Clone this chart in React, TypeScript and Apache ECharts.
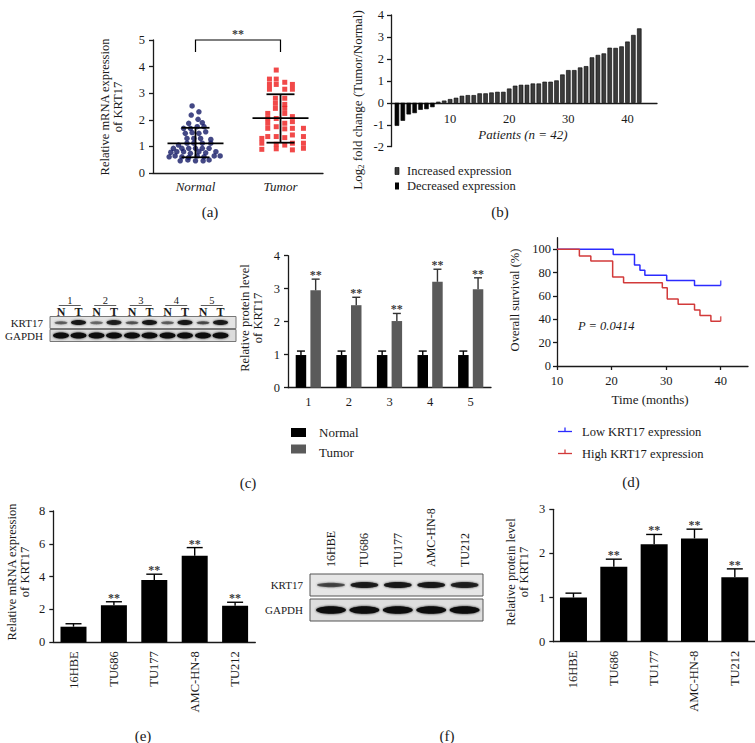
import React, { useEffect, useRef } from "react";
import * as echarts from "echarts";

const FONT = "'Liberation Serif', 'DejaVu Serif', serif";
const INK = "#1a1a1a";

// ---------- (a) scatter: [jittered position, relative mRNA expression]
const groupsA = ["Normal", "Tumor"];
const normalPoints: [number, number][] = [
  [0.46, 2.52], [0.54, 2.3], [0.45, 2.18], [0.53, 2.02], [0.42, 1.87], [0.58, 1.89],
  [0.36, 1.68], [0.44, 1.68], [0.52, 1.74], [0.6, 1.74],
  [0.38, 1.49], [0.46, 1.52], [0.54, 1.49], [0.62, 1.55],
  [0.4, 1.3], [0.48, 1.3], [0.56, 1.3], [0.68, 1.26],
  [0.3, 1.05], [0.4, 1.12], [0.48, 1.12], [0.58, 1.12], [0.68, 1.12],
  [0.24, 0.93], [0.34, 0.93], [0.42, 0.93], [0.5, 0.93], [0.58, 0.93], [0.66, 0.93],
  [0.21, 0.78], [0.28, 0.8], [0.36, 0.8], [0.44, 0.74], [0.54, 0.8], [0.62, 0.76], [0.74, 0.8],
  [0.19, 0.61], [0.26, 0.64], [0.34, 0.61], [0.42, 0.59], [0.52, 0.64], [0.6, 0.61], [0.72, 0.64], [0.79, 0.64],
  [0.32, 0.46], [0.41, 0.49], [0.5, 0.46], [0.59, 0.46], [0.66, 0.49],
];
const tumorPoints: [number, number][] = [
  [1.45, 3.87],
  [1.37, 3.53], [1.45, 3.53],
  [1.37, 3.33], [1.45, 3.33], [1.55, 3.41], [1.64, 3.33],
  [1.37, 3.15], [1.55, 3.15], [1.64, 3.15],
  [1.44, 2.81], [1.55, 2.81],
  [1.44, 2.62], [1.55, 2.58],
  [1.44, 2.43], [1.55, 2.43],
  [1.35, 2.24], [1.55, 2.24],
  [1.35, 2.05], [1.45, 2.05], [1.64, 2.12],
  [1.35, 1.87], [1.55, 1.87], [1.64, 1.93],
  [1.35, 1.68], [1.45, 1.74], [1.55, 1.66], [1.64, 1.68], [1.77, 1.68],
  [1.28, 1.3], [1.35, 1.37], [1.45, 1.37], [1.55, 1.33], [1.64, 1.43], [1.77, 1.37],
  [1.28, 1.12], [1.45, 1.08], [1.55, 1.05], [1.64, 1.12], [1.77, 1.12],
  [1.28, 0.89], [1.45, 0.91], [1.64, 0.87], [1.77, 0.93],
];
// [group position, mean, lower SD, upper SD]
const summaryA: number[][] = [
  [0.5, 1.11, 0.59, 1.7],
  [1.5, 2.06, 1.14, 2.96],
];
// [from, to, top, foot]
const bracketA: number[][] = [[0.5, 1.5, 5.0, 4.55]];

// ---------- (b) log2 fold change per patient
const foldChange = [
  -1.05, -0.82, -0.53, -0.47, -0.32, -0.29, -0.2, 0.05, 0.1, 0.17,
  0.23, 0.32, 0.35, 0.35, 0.43, 0.43, 0.47, 0.5, 0.5, 0.65,
  0.78, 0.82, 0.82, 0.88, 0.88, 0.96, 0.96, 1.02, 1.29, 1.49,
  1.49, 1.61, 1.67, 2.07, 2.18, 2.25, 2.51, 2.5, 2.57, 2.79,
  3.09, 3.39,
];
const patientTicks = [10, 20, 30, 40];

// ---------- (c) protein level in 5 tissue pairs
const pairLabels = ["1", "2", "3", "4", "5"];
const normalProtein = [0.99, 0.99, 0.99, 0.99, 0.99];
const normalProteinErr = [0.12, 0.12, 0.12, 0.12, 0.12];
const tumorProtein = [2.95, 2.5, 2.02, 3.21, 2.98];
const tumorProteinErr = [0.34, 0.24, 0.23, 0.38, 0.35];
const blotKrt17N = [0.5, 0.45, 0.55, 0.5, 0.6];
const blotKrt17T = [0.95, 0.85, 0.95, 0.95, 0.9];

// ---------- (d) Kaplan-Meier
const lowKM: [number, number][] = [
  [10, 100], [20.3, 95.7], [24.2, 86.5], [25.2, 82], [26.1, 77.7], [30.1, 73.3], [35.2, 69], [40, 69],
];
const highKM: [number, number][] = [
  [10, 100], [14.1, 94.3], [16.2, 90], [20.2, 76.2], [22.2, 71.3], [29.3, 67], [30.2, 57.5],
  [32.2, 53], [35.2, 48], [36.2, 43.2], [38.2, 38.3], [40, 38.3],
];
const monthTicks = [10, 20, 30, 40];
const survivalTicks = [0, 20, 40, 60, 80, 100];

// ---------- (e)/(f) cell lines
const cellLines = ["16HBE", "TU686", "TU177", "AMC-HN-8", "TU212"];
const mrnaLevels = [0.95, 2.25, 3.8, 5.27, 2.22];
const mrnaErr = [0.18, 0.22, 0.35, 0.5, 0.22];
const proteinLevels = [1.0, 1.7, 2.21, 2.34, 1.46];
const proteinErr = [0.1, 0.17, 0.22, 0.21, 0.19];
const blotCellKrt17 = [0.6, 0.9, 0.95, 0.95, 0.85];
const mrnaSig = [false, true, true, true, true];
const proteinSig = [false, true, true, true, true];

// ---------- helpers
const axisLineS = { lineStyle: { color: INK, width: 1.3 } };
const axisTickS = { length: 4, lineStyle: { color: INK, width: 1.3 } };
const axisLabelS = { color: INK, fontFamily: FONT, fontSize: 12, margin: 6 };

const txt = (
  text: string,
  x: number,
  y: number,
  o: { size?: number; italic?: boolean; align?: string; rot?: number; lh?: number; bold?: boolean } = {}
) => ({
  type: "text",
  x,
  y,
  rotation: o.rot || 0,
  silent: true,
  style: {
    text,
    x: 0,
    y: 0,
    fill: INK,
    fontFamily: FONT,
    fontSize: o.size || 12,
    fontStyle: o.italic ? "italic" : "normal",
    fontWeight: o.bold ? "bold" : "normal",
    lineHeight: o.lh || (o.size || 12) + 2,
    textAlign: o.align || "center",
    textVerticalAlign: "middle",
    align: o.align || "center",
    verticalAlign: "middle",
  },
});

// invisible anchor points that carry the "**" significance labels
const starSeries = (xAxisIndex: number, yAxisIndex: number, data: any[], dx: number, dy: number) => ({
  type: "scatter",
  xAxisIndex,
  yAxisIndex,
  data,
  symbol: "circle",
  symbolSize: 1,
  itemStyle: { color: "rgba(0,0,0,0)" },
  silent: true,
  z: 6,
  label: {
    show: true,
    formatter: "**",
    position: "inside",
    offset: [dx, dy],
    color: "#000",
    textBorderWidth: 0,
    fontFamily: FONT,
    fontSize: 12,
    fontWeight: "bold",
  },
});

const makeErr = (offset: number, capHalf: number, color: string) => (params: any, api: any) => {
  const i = api.value(0);
  const v = api.value(1);
  const e = api.value(2);
  const p0 = api.coord([i, v]);
  const p1 = api.coord([i, v + e]);
  const x = p0[0] + offset;
  const st = { stroke: color, lineWidth: 1.4 };
  return {
    type: "group",
    children: [
      { type: "line", shape: { x1: x, y1: p0[1], x2: x, y2: p1[1] }, style: st },
      { type: "line", shape: { x1: x - capHalf, y1: p1[1], x2: x + capHalf, y2: p1[1] }, style: st },
    ],
  };
};

function blotC(): any[] {
  const els: any[] = [];
  const left = 50, right = 236;
  els.push({ type: "rect", shape: { x: left, y: 316.5, width: right - left, height: 12 }, style: { fill: "#e4e4e4", stroke: "#777", lineWidth: 1 } });
  els.push({ type: "rect", shape: { x: left, y: 329.5, width: right - left, height: 12 }, style: { fill: "#dcdcdc", stroke: "#777", lineWidth: 1 } });
  for (let p = 0; p < 5; p++) {
    const nx = 61 + p * 35.5;
    const tx = nx + 17.5;
    const mid = (nx + tx) / 2;
    els.push(txt(pairLabels[p], mid, 300, { size: 10.5 }));
    els.push({ type: "line", shape: { x1: mid - 11, y1: 305.5, x2: mid + 11, y2: 305.5 }, style: { stroke: "#333", lineWidth: 0.8 } });
    els.push(txt("N", nx, 312, { size: 12, bold: true }));
    els.push(txt("T", tx, 311.5, { size: 12, bold: true }));
    els.push({ type: "ellipse", shape: { cx: nx, cy: 322.8, rx: 6.5, ry: 1.6 }, style: { fill: "#111", opacity: blotKrt17N[p], shadowBlur: 2, shadowColor: "#333" } });
    els.push({ type: "ellipse", shape: { cx: tx, cy: 322.6, rx: 7.5, ry: 2.5 }, style: { fill: "#111", opacity: blotKrt17T[p], shadowBlur: 2, shadowColor: "#333" } });
    els.push({ type: "ellipse", shape: { cx: nx, cy: 335.5, rx: 8, ry: 3 }, style: { fill: "#111", shadowBlur: 2, shadowColor: "#222" } });
    els.push({ type: "ellipse", shape: { cx: tx, cy: 335.5, rx: 8, ry: 3 }, style: { fill: "#111", shadowBlur: 2, shadowColor: "#222" } });
  }
  els.push(txt("KRT17", 43, 322.5, { size: 11, align: "right" }));
  els.push(txt("GAPDH", 43, 335.5, { size: 11, align: "right" }));
  return els;
}

function blotF(): any[] {
  const els: any[] = [];
  const left = 310, right = 483;
  els.push({ type: "rect", shape: { x: left, y: 574, width: right - left, height: 22 }, style: { fill: "#e6e6e6", stroke: "#555", lineWidth: 1 } });
  els.push({ type: "rect", shape: { x: left, y: 599, width: right - left, height: 22 }, style: { fill: "#dedede", stroke: "#555", lineWidth: 1 } });
  for (let i = 0; i < 5; i++) {
    const cx = 331 + i * 33.4;
    els.push({ type: "ellipse", shape: { cx, cy: 585, rx: 14, ry: i === 0 ? 2.2 : 3 }, style: { fill: "#111", opacity: blotCellKrt17[i], shadowBlur: 2, shadowColor: "#333" } });
    els.push({ type: "ellipse", shape: { cx, cy: 610, rx: 15, ry: 3.8 }, style: { fill: "#111", shadowBlur: 2, shadowColor: "#222" } });
    els.push(txt(cellLines[i], cx, 567, { size: 12, align: "left", rot: Math.PI / 2 }));
  }
  els.push(txt("KRT17", 303, 585, { size: 11, align: "right" }));
  els.push(txt("GAPDH", 303, 610, { size: 11, align: "right" }));
  return els;
}

function buildOption(): any {
  const grids = [
    { left: 153, top: 40, width: 170, height: 133 }, // 0 a
    { left: 391, top: 15, width: 266, height: 131.7 }, // 1 b (bars, full -2..4)
    { left: 288, top: 255.7, width: 203, height: 132 }, // 2 c
    { left: 557, top: 237.7, width: 191, height: 128.3 }, // 3 d
    { left: 53.3, top: 511, width: 202, height: 131.3 }, // 4 e
    { left: 553.3, top: 509.3, width: 201.7, height: 132.4 }, // 5 f
    { left: 391, top: 15, width: 266, height: 87.8 }, // 6 b: x axis drawn at y = 0
  ];

  const hiddenVal = (gridIndex: number, min: number, max: number) => ({ type: "value", gridIndex, min, max, show: false });

  const xAxis: any[] = [
    { type: "category", gridIndex: 0, data: groupsA, axisLine: axisLineS, axisTick: { ...axisTickS, alignWithLabel: true }, axisLabel: { ...axisLabelS, fontSize: 13, fontStyle: "italic", margin: 7 } },
    hiddenVal(0, 0, 2),
    hiddenVal(1, 0, 45),
    { type: "category", gridIndex: 2, data: pairLabels, axisLine: axisLineS, axisTick: { ...axisTickS, alignWithLabel: true }, axisLabel: { ...axisLabelS, fontSize: 12.5, margin: 8 } },
    { type: "value", gridIndex: 3, min: 10, max: 45, axisLine: axisLineS, axisTick: { ...axisTickS, customValues: monthTicks }, splitLine: { show: false }, axisLabel: { ...axisLabelS, fontSize: 12.5, margin: 8, customValues: monthTicks } },
    { type: "category", gridIndex: 4, data: cellLines, axisLine: axisLineS, axisTick: { ...axisTickS, alignWithLabel: true }, axisLabel: { ...axisLabelS, rotate: 90, margin: 9, fontSize: 12.5 } },
    { type: "category", gridIndex: 5, data: cellLines, axisLine: axisLineS, axisTick: { ...axisTickS, alignWithLabel: true }, axisLabel: { ...axisLabelS, rotate: 90, margin: 9, fontSize: 12.5 } },
    { type: "value", gridIndex: 6, min: 0, max: 45, axisLine: { ...axisLineS, onZero: false }, axisTick: { show: false }, splitLine: { show: false }, axisLabel: { ...axisLabelS, fontSize: 12.5, margin: 10, customValues: patientTicks } },
  ];
  const yAxis: any[] = [
    { type: "value", gridIndex: 0, min: 0, max: 5, interval: 1, axisLine: { show: true, ...axisLineS }, axisTick: { show: true, ...axisTickS }, splitLine: { show: false }, axisLabel: { ...axisLabelS, fontSize: 12.5, margin: 8 } },
    { type: "value", gridIndex: 1, min: -2, max: 4, interval: 1, axisLine: { show: true, onZero: false, ...axisLineS }, axisTick: { show: true, ...axisTickS }, splitLine: { show: false }, axisLabel: { ...axisLabelS, fontSize: 12.5, margin: 7 } },
    { type: "value", gridIndex: 2, min: 0, max: 4, interval: 1, axisLine: { show: true, ...axisLineS }, axisTick: { show: true, ...axisTickS }, splitLine: { show: false }, axisLabel: { ...axisLabelS, fontSize: 12.5, margin: 8 } },
    { type: "value", gridIndex: 3, min: 0, max: 110, axisLine: { show: true, onZero: false, ...axisLineS }, axisTick: { show: true, ...axisTickS, customValues: survivalTicks }, splitLine: { show: false }, axisLabel: { ...axisLabelS, fontSize: 12.5, margin: 6, customValues: survivalTicks } },
    { type: "value", gridIndex: 4, min: 0, max: 8, interval: 2, axisLine: { show: true, ...axisLineS }, axisTick: { show: true, ...axisTickS }, splitLine: { show: false }, axisLabel: { ...axisLabelS, fontSize: 12.5, margin: 8 } },
    { type: "value", gridIndex: 5, min: 0, max: 3, interval: 1, axisLine: { show: true, ...axisLineS }, axisTick: { show: true, ...axisTickS }, splitLine: { show: false }, axisLabel: { ...axisLabelS, fontSize: 12.5, margin: 8 } },
    hiddenVal(6, 0, 4),
  ];

  const series: any[] = [
    // (a)
    { type: "scatter", xAxisIndex: 1, yAxisIndex: 0, data: normalPoints, symbol: "circle", symbolSize: 5.5, itemStyle: { color: "#141a66" }, z: 3 },
    { type: "scatter", xAxisIndex: 1, yAxisIndex: 0, data: tumorPoints, symbol: "rect", symbolSize: 5, itemStyle: { color: "#ee1c1c" }, z: 3 },
    {
      type: "custom", xAxisIndex: 1, yAxisIndex: 0, data: summaryA, z: 5, encode: { x: 0, y: 1 },
      renderItem: (params: any, api: any) => {
        const cx = api.value(0);
        const pm = api.coord([cx, api.value(1)]);
        const pl = api.coord([cx, api.value(2)]);
        const ph = api.coord([cx, api.value(3)]);
        const st = { stroke: "#000", lineWidth: 1.8 };
        return {
          type: "group",
          children: [
            { type: "line", shape: { x1: pm[0] - 28, y1: pm[1], x2: pm[0] + 28, y2: pm[1] }, style: st },
            { type: "line", shape: { x1: pl[0], y1: pl[1], x2: ph[0], y2: ph[1] }, style: st },
            { type: "line", shape: { x1: pl[0] - 14, y1: pl[1], x2: pl[0] + 14, y2: pl[1] }, style: st },
            { type: "line", shape: { x1: ph[0] - 14, y1: ph[1], x2: ph[0] + 14, y2: ph[1] }, style: st },
          ],
        };
      },
    },
    {
      type: "custom", xAxisIndex: 1, yAxisIndex: 0, data: bracketA, z: 5, encode: { x: 0, y: 2 }, clip: false,
      renderItem: (params: any, api: any) => {
        const a = api.coord([api.value(0), api.value(2)]);
        const b = api.coord([api.value(1), api.value(2)]);
        const f = api.coord([api.value(0), api.value(3)]);
        return {
          type: "polyline",
          shape: { points: [[a[0], f[1]], [a[0], a[1]], [b[0], b[1]], [b[0], f[1]]] },
          style: { stroke: "#000", lineWidth: 1.2, fill: "none" },
        };
      },
    },
    starSeries(1, 0, bracketA.map((d) => [(d[0] + d[1]) / 2, d[2]]), 0, -6),
    // (b)
    {
      type: "bar", xAxisIndex: 2, yAxisIndex: 1, barWidth: 4.5,
      data: foldChange.map((v, i) => ({ value: [i + 1, v], itemStyle: { color: v < 0 ? "#050505" : "#3c3c3c", borderColor: "#000", borderWidth: 0.6 } })),
    },
    // (c)
    { type: "bar", xAxisIndex: 3, yAxisIndex: 2, data: normalProtein, barWidth: 10.5, barGap: "40%", itemStyle: { color: "#000" }, z: 2 },
    { type: "bar", xAxisIndex: 3, yAxisIndex: 2, data: tumorProtein, barWidth: 10.5, barGap: "40%", itemStyle: { color: "#5a5a5a" }, z: 2 },
    { type: "custom", xAxisIndex: 3, yAxisIndex: 2, encode: { x: 0, y: 1 }, z: 3, data: normalProtein.map((v, i) => [i, v, normalProteinErr[i]]), renderItem: makeErr(-7.35, 4, "#000") },
    { type: "custom", xAxisIndex: 3, yAxisIndex: 2, encode: { x: 0, y: 1 }, z: 3, data: tumorProtein.map((v, i) => [i, v, tumorProteinErr[i]]), renderItem: makeErr(7.35, 4, "#333") },
    starSeries(3, 2, tumorProtein.map((v, i) => [i, v + tumorProteinErr[i]]), 7.35, -4),
    // (d)
    { type: "line", xAxisIndex: 4, yAxisIndex: 3, data: lowKM, step: "end", showSymbol: false, lineStyle: { color: "#2b2bff", width: 1.5 }, z: 3 },
    { type: "line", xAxisIndex: 4, yAxisIndex: 3, data: highKM, step: "end", showSymbol: false, lineStyle: { color: "#d23a3a", width: 1.5 }, z: 3 },
    { type: "scatter", xAxisIndex: 4, yAxisIndex: 3, data: [lowKM[lowKM.length - 1]], symbol: "rect", symbolSize: [1.5, 5], symbolOffset: [0, -2.5], itemStyle: { color: "#2b2bff" } },
    { type: "scatter", xAxisIndex: 4, yAxisIndex: 3, data: [highKM[highKM.length - 1]], symbol: "rect", symbolSize: [1.5, 5], symbolOffset: [0, -2.5], itemStyle: { color: "#d23a3a" } },
    // (e)
    { type: "bar", xAxisIndex: 5, yAxisIndex: 4, data: mrnaLevels, barWidth: 26, itemStyle: { color: "#000" }, z: 2 },
    { type: "custom", xAxisIndex: 5, yAxisIndex: 4, encode: { x: 0, y: 1 }, z: 3, data: mrnaLevels.map((v, i) => [i, v, mrnaErr[i]]), renderItem: makeErr(0, 8, "#000") },
    starSeries(5, 4, mrnaLevels.map((v, i) => [i, v + mrnaErr[i]]).filter((d, i) => mrnaSig[i]), 0, -4),
    // (f)
    { type: "bar", xAxisIndex: 6, yAxisIndex: 5, data: proteinLevels, barWidth: 27, itemStyle: { color: "#000" }, z: 2 },
    { type: "custom", xAxisIndex: 6, yAxisIndex: 5, encode: { x: 0, y: 1 }, z: 3, data: proteinLevels.map((v, i) => [i, v, proteinErr[i]]), renderItem: makeErr(0, 8, "#000") },
    starSeries(6, 5, proteinLevels.map((v, i) => [i, v + proteinErr[i]]).filter((d, i) => proteinSig[i]), 0, -4),
  ];

  const graphic: any[] = [
    // axis titles
    txt("Relative mRNA expression\nof KRT17", 111.5, 107, { size: 12.5, rot: Math.PI / 2, lh: 13 }),
    {
      type: "text", x: 357, y: 100, rotation: Math.PI / 2, silent: true,
      style: {
        text: "{n|Log}{s|2}{n| fold change (Tumor/Normal)}", x: 0, y: 0,
        textAlign: "center", textVerticalAlign: "middle", align: "center", verticalAlign: "middle",
        rich: {
          n: { fontFamily: FONT, fontSize: 13, fill: INK, textFill: INK, lineHeight: 15 },
          s: { fontFamily: FONT, fontSize: 8.5, fill: INK, textFill: INK, lineHeight: 15, padding: [7, 0, 0, 0] },
        },
      },
    },
    txt("Patients (n = 42)", 523, 134.5, { size: 13, italic: true }),
    txt("Relative protein level\nof KRT17", 251, 318, { size: 12.5, rot: Math.PI / 2, lh: 13 }),
    txt("Overall survival (%)", 515, 300, { size: 12.5, rot: Math.PI / 2 }),
    txt("Time (months)", 650, 399, { size: 13 }),
    txt("P = 0.0414", 578, 326, { size: 12.5, italic: true, align: "left" }),
    txt("Relative mRNA expression\nof KRT17", 18.5, 572, { size: 12.5, rot: Math.PI / 2, lh: 13 }),
    txt("Relative protein level\nof KRT17", 517, 572, { size: 12.5, rot: Math.PI / 2, lh: 13 }),
    // legend (b)
    { type: "rect", shape: { x: 395, y: 167.5, width: 4, height: 7 }, style: { fill: "#3c3c3c", stroke: "#000", lineWidth: 0.6 } },
    txt("Increased expression", 407, 170.5, { size: 12.5, align: "left" }),
    { type: "rect", shape: { x: 395, y: 182.5, width: 4, height: 7 }, style: { fill: "#050505" } },
    txt("Decreased expression", 407, 186, { size: 12.5, align: "left" }),
    // legend (c)
    { type: "rect", shape: { x: 291, y: 428, width: 15, height: 9 }, style: { fill: "#000" } },
    txt("Normal", 319, 432.5, { size: 13, align: "left" }),
    { type: "rect", shape: { x: 291, y: 444.5, width: 15, height: 9 }, style: { fill: "#5a5a5a" } },
    txt("Tumor", 319, 452.5, { size: 13, align: "left" }),
    // legend (d)
    { type: "line", shape: { x1: 558, y1: 431.5, x2: 572, y2: 431.5 }, style: { stroke: "#2b2bff", lineWidth: 1.3 } },
    { type: "line", shape: { x1: 565, y1: 431.5, x2: 565, y2: 427.5 }, style: { stroke: "#2b2bff", lineWidth: 1.3 } },
    txt("Low KRT17 expression", 582, 431.5, { size: 12.5, align: "left" }),
    { type: "line", shape: { x1: 558, y1: 453.5, x2: 572, y2: 453.5 }, style: { stroke: "#d23a3a", lineWidth: 1.3 } },
    { type: "line", shape: { x1: 565, y1: 453.5, x2: 565, y2: 449.5 }, style: { stroke: "#d23a3a", lineWidth: 1.3 } },
    txt("High KRT17 expression", 582, 453.5, { size: 12.5, align: "left" }),
    // panel letters
    txt("(a)", 210, 212, { size: 15 }),
    txt("(b)", 500, 212, { size: 15 }),
    txt("(c)", 248, 483, { size: 15 }),
    txt("(d)", 631, 482, { size: 15 }),
    txt("(e)", 143, 736, { size: 15 }),
    txt("(f)", 447, 736, { size: 15 }),
    ...blotC(),
    ...blotF(),
  ];

  return {
    animation: false,
    backgroundColor: "#ffffff",
    textStyle: { fontFamily: FONT },
    grid: grids,
    xAxis,
    yAxis,
    series,
    graphic,
  };
}

export default function App() {
  const ref = useRef<HTMLDivElement | null>(null);
  useEffect(() => {
    if (!ref.current) return;
    const chart = echarts.init(ref.current, undefined, { renderer: "svg" });
    chart.setOption(buildOption());
    return () => chart.dispose();
  }, []);
  return (
    <div
      ref={ref}
      style={{ position: "fixed", left: 0, top: 0, width: 755, height: 743, background: "#fff" }}
    />
  );
}
